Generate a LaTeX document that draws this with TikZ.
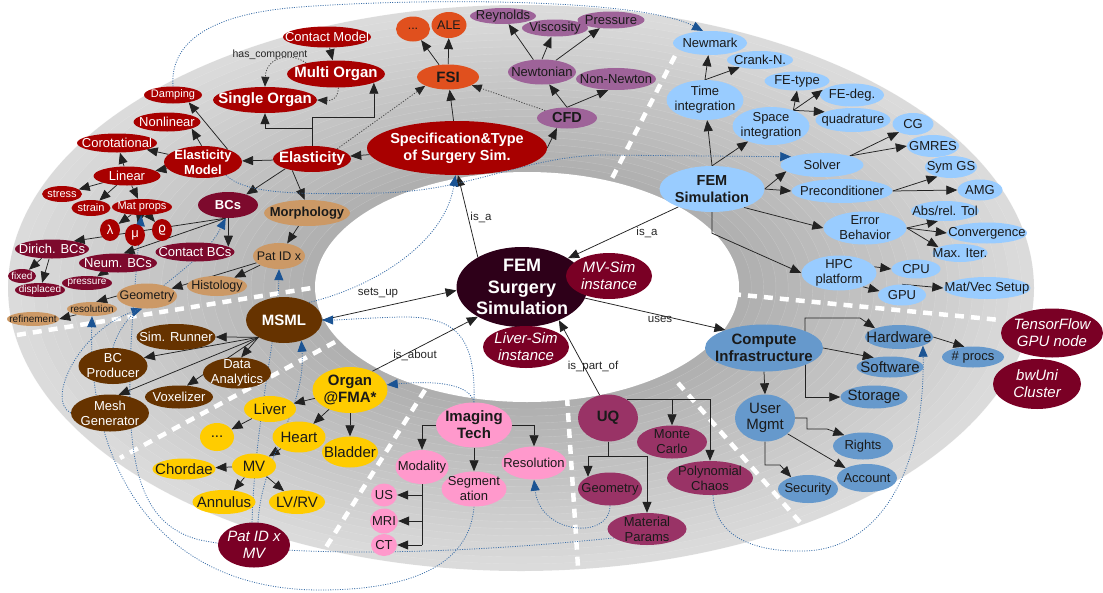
\documentclass[tikz,border=0pt]{standalone}
\usepackage{fontspec}
\setmainfont{Liberation Sans}
\newfontfamily\dejavu{DejaVu Sans}
\usetikzlibrary{shapes.geometric,arrows.meta,calc}
\pgfdeclarelayer{ring}
\pgfdeclarelayer{edges}
\pgfsetlayers{ring,edges,main}
\definecolor{cRed}{HTML}{A80000}
\definecolor{cBC}{HTML}{7D0A2D}
\definecolor{cInst}{HTML}{7A0025}
\definecolor{cCtr}{HTML}{2E0019}
\definecolor{cOr}{HTML}{E0501E}
\definecolor{cPu}{HTML}{9E6399}
\definecolor{cLB}{HTML}{99CCFF}
\definecolor{cMB}{HTML}{6699CC}
\definecolor{cPl}{HTML}{993366}
\definecolor{cPk}{HTML}{FF99CC}
\definecolor{cYl}{HTML}{FFCC00}
\definecolor{cBr}{HTML}{663300}
\definecolor{cTn}{HTML}{CC9966}
\definecolor{cTxt}{HTML}{1A1A1A}
\definecolor{cLine}{HTML}{222222}
\definecolor{cBl}{HTML}{3A6EA8}
\definecolor{cBlH}{HTML}{1B5494}
\newcommand\fsz[2]{\fontsize{#1}{#2}\selectfont}
\newcommand\Nd[8]{\node[#2, minimum width=#5pt, minimum height=#6pt] (#1) at (#3,#4) {};\node[#2t, #7] (#1-t) at (#1.center) {#8};}
\tikzset{
 nd/.style={ellipse, inner sep=0pt, draw=none},
 txt/.style={inner sep=0pt, align=center, text=cTxt},
 wtxt/.style={inner sep=0pt, align=center, text=white},
 rd/.style={nd, fill=cRed}, rdt/.style={wtxt},
 bc/.style={nd, fill=cBC}, bct/.style={wtxt},
 inst/.style={nd, fill=cInst}, instt/.style={wtxt},
 ctr/.style={nd, fill=cCtr}, ctrt/.style={wtxt},
 og/.style={nd, fill=cOr}, ogt/.style={txt},
 pur/.style={nd, fill=cPu}, purt/.style={txt},
 lb/.style={nd, fill=cLB}, lbt/.style={txt},
 mb/.style={nd, fill=cMB}, mbt/.style={txt},
 pl/.style={nd, fill=cPl}, plt/.style={txt},
 pk/.style={nd, fill=cPk}, pkt/.style={txt},
 yl/.style={nd, fill=cYl}, ylt/.style={txt},
 br/.style={nd, fill=cBr}, brt/.style={wtxt},
 tn/.style={nd, fill=cTn}, tnt/.style={txt},
 f10/.style={font=\fsz{10}{11}},
 f11/.style={font=\fsz{11}{12.5}},
 f12/.style={font=\fsz{12.5}{14}},
 f13/.style={font=\fsz{13}{15}},
 f15/.style={font=\fsz{15}{16.5}},
 b13/.style={font=\fsz{13}{15}\bfseries},
 b14/.style={font=\fsz{14.5}{17}\bfseries},
 b15/.style={font=\fsz{15}{17}\bfseries},
 b18/.style={font=\fsz{18}{21.5}\bfseries},
 i15/.style={font=\fsz{15}{17}\itshape},
 arr/.style={draw=cLine, line width=0.75pt, -{Triangle[length=11pt,width=9pt]}},
 ln/.style={draw=cLine, line width=0.75pt},
 dkarr/.style={draw=black!70, line width=0.8pt, dash pattern=on 1.2pt off 1.5pt, -{Triangle[length=10pt,width=8pt,color=black!85]}},
 bl/.style={draw=cBl, line width=0.8pt, dash pattern=on 1pt off 1.4pt, -{Triangle[length=11pt,width=9pt,color=cBlH]}},
 lab/.style={inner sep=0pt, font=\fsz{11.5}{13}, text=black!85},
 sepline/.style={white, line width=4.5pt, dash pattern=on 9pt off 7pt},
}
\begin{document}
\begin{tikzpicture}[x=1pt,y=-1pt]
\useasboundingbox (0,0) rectangle (1103,592);
\begin{pgfonlayer}{ring}
\foreach \i in {0,...,23}{
  \pgfmathsetmacro\t{\i/24}
  \pgfmathsetmacro\cx{521+6*\t}
  \pgfmathsetmacro\cy{288-1*\t}
  \pgfmathsetmacro\rx{513-301*\t}
  \pgfmathsetmacro\ry{283-168*\t}
  \pgfmathsetmacro\g{14+18*\t}
  \fill[black!\g] (\cx,\cy) ellipse [x radius=\rx pt, y radius=\ry pt];
  \draw[white, opacity=.2, line width=.4pt] (\cx,\cy) ellipse [x radius=\rx pt, y radius=\ry pt];
}
\fill[white] (527,287) ellipse [x radius=212pt, y radius=115pt];
\draw[sepline] (17,335) -- (318,287);
\draw[sepline] (335,342) -- (120,458);
\draw[sepline] (425,390) -- (323,552);
\draw[sepline] (567,397) -- (578,567);
\draw[sepline] (678,383) -- (805,528);
\draw[sepline] (732,294) -- (1000,320);
\draw[sepline] (605,192) -- (678,50);
\end{pgfonlayer}

% ---------- nodes ----------
\Nd{cm}{rd}{327}{37}{88}{21}{f13}{Contact Model}
\Nd{mo}{rd}{336}{74}{98}{27}{b15}{Multi Organ}
\Nd{so}{rd}{265}{100}{104}{26}{b15}{Single Organ}
\Nd{dmp}{rd}{173}{95}{58}{17}{f11}{Damping}
\Nd{nl}{rd}{167}{122}{67}{19}{f13}{Nonlinear}
\Nd{cor}{rd}{117}{143}{80}{19}{f13}{Corotational}
\Nd{em}{rd}{203}{162}{78}{32}{b13}{Elasticity\\Model}
\Nd{el}{rd}{312}{159}{78}{26}{b15}{Elasticity}
\Nd{lin}{rd}{127}{176}{67}{19}{f13}{Linear}
\Nd{str}{rd}{62}{194}{40}{16}{f11}{stress}
\Nd{stn}{rd}{91}{208}{39}{16}{f11}{strain}
\Nd{mp}{rd}{142}{207}{60}{16}{f11}{Mat props}
\Nd{lam}{rd}{110}{230}{20}{22}{f13}{λ}
\Nd{mu}{rd}{135}{235}{20}{22}{f13}{μ}
\Nd{rho}{rd}{162}{230}{20}{22}{f13}{{\dejavu ϱ}}
\Nd{spec}{rd}{457}{148}{180}{54}{b14}{Specification\&Type\\of Surgery Sim.}

\Nd{bcs}{bc}{228}{205}{60}{26}{b13}{BCs}
\Nd{dbc}{bc}{52}{249}{74}{19}{f13}{Dirich. BCs}
\Nd{nbc}{bc}{118}{263}{78}{19}{f13}{Neum. BCs}
\Nd{cbc}{bc}{195}{252}{79}{19}{f13}{Contact BCs}
\Nd{fix}{bc}{22}{276}{28}{14}{f10}{fixed}
\Nd{dis}{bc}{40}{290}{50}{14}{f10}{displaced}
\Nd{prs}{bc}{87}{283}{50}{14}{f10}{pressure}

\Nd{mor}{tn}{307}{213}{86}{26}{b13}{Morphology}
\Nd{pid}{tn}{279}{256}{52}{26}{f12}{Pat ID x}
\Nd{his}{tn}{217}{286}{60}{20}{f12}{Histology}
\Nd{geo}{tn}{147}{296}{60}{25}{f12}{Geometry}
\Nd{res}{tn}{92}{309}{50}{14}{f10}{resolution}
\Nd{ref}{tn}{33}{319}{52}{14}{f10}{refinement}

\Nd{msml}{br}{284}{320}{76}{46}{b15}{MSML}
\Nd{sr}{br}{176}{337}{79}{26}{f13}{Sim. Runner}
\Nd{bcp}{br}{113}{366}{69}{36}{f13}{BC\\Producer}
\Nd{da}{br}{237}{373}{68}{31}{f13}{Data\\Analytics}
\Nd{vox}{br}{179}{397}{68}{23}{f13}{Voxelizer}
\Nd{mg}{br}{110}{413}{78}{37}{f13}{Mesh\\Generator}

\Nd{org}{yl}{350}{390}{75}{46}{b15}{Organ\\@FMA*}
\Nd{liv}{yl}{270}{409}{52}{26}{f15}{Liver}
\Nd{dots}{yl}{217}{437}{34}{28}{f15}{...}
\Nd{hrt}{yl}{299}{437}{53}{31}{f15}{Heart}
\Nd{bld}{yl}{350}{452}{56}{31}{f15}{Bladder}
\Nd{cho}{yl}{184}{469}{63}{21}{f15}{Chordae}
\Nd{mv}{yl}{254}{466}{44}{25}{f15}{MV}
\Nd{ann}{yl}{224}{502}{63}{24}{f15}{Annulus}
\Nd{lvrv}{yl}{297}{502}{56}{24}{f15}{LV/RV}

\Nd{img}{pk}{474}{425}{76}{45}{b15}{Imaging\\Tech}
\Nd{mod}{pk}{422}{467}{53}{34}{f13}{Modality}
\Nd{seg}{pk}{474}{489}{65}{35}{f13}{Segment\\ation}
\Nd{ires}{pk}{534}{463}{65}{33}{f13}{Resolution}
\Nd{us}{pk}{384}{495}{26}{23}{f13}{US}
\Nd{mri}{pk}{384}{521}{28}{25}{f13}{MRI}
\Nd{ct}{pk}{384}{545}{26}{22}{f13}{CT}

\Nd{uq}{pl}{608}{418}{60}{47}{b15}{UQ}
\Nd{mc}{pl}{672}{442}{70}{33}{f13}{Monte\\Carlo}
\Nd{pc}{pl}{710}{478}{86}{34}{f13}{Polynomial\\Chaos}
\Nd{ug}{pl}{610}{489}{64}{33}{f13}{Geometry}
\Nd{mat}{pl}{647}{529}{79}{32}{f13}{Material\\Params}

\Nd{ci}{mb}{764}{348}{118}{47}{b15}{Compute\\Infrastructure}
\Nd{hw}{mb}{899}{337}{68}{24}{f15}{Hardware}
\Nd{sw}{mb}{890}{367}{67}{21}{f15}{Software}
\Nd{np}{mb}{973}{357}{62}{21}{f13}{\# procs}
\Nd{sto}{mb}{874}{397}{67}{23}{f15}{Storage}
\Nd{um}{mb}{765}{418}{60}{47}{f15}{User\\Mgmt}
\Nd{rig}{mb}{863}{446}{60}{27}{f13}{Rights}
\Nd{acc}{mb}{867}{478}{60}{28}{f13}{Account}
\Nd{sec}{mb}{808}{489}{60}{28}{f13}{Security}

\Nd{fem}{ctr}{522}{287}{131}{80}{b18}{FEM\\Surgery\\Simulation}
\Nd{mvs}{inst}{609}{276}{86}{46}{i15}{MV-Sim\\instance}
\Nd{lvs}{inst}{526}{347}{86}{42}{i15}{Liver-Sim\\instance}
\Nd{tf}{inst}{1052}{333}{102}{49}{i15}{TensorFlow\\GPU node}
\Nd{bw}{inst}{1037}{384}{88}{50}{i15}{bwUni\\Cluster}
\Nd{pmv}{inst}{254}{545}{72}{45}{i15}{Pat ID x\\MV}

\Nd{fs}{lb}{712}{189}{105}{46}{b14}{FEM\\Simulation}
\Nd{ti}{lb}{705}{100}{77}{40}{f13}{Time\\integration}
\Nd{si}{lb}{771}{126}{77}{38}{f13}{Space\\integration}
\Nd{nm}{lb}{710}{43}{74}{24}{f13}{Newmark}
\Nd{cnk}{lb}{760}{60}{66}{18}{f13}{Crank-N.}
\Nd{fet}{lb}{797}{81}{65}{19}{f13}{FE-type}
\Nd{fed}{lb}{852}{95}{64}{23}{f13}{FE-deg.}
\Nd{quad}{lb}{853}{120}{75}{24}{f13}{quadrature}
\Nd{cg}{lb}{913}{124}{41}{22}{f13}{CG}
\Nd{gm}{lb}{933}{146}{52}{22}{f13}{GMRES}
\Nd{sgs}{lb}{951}{167}{52}{22}{f13}{Sym GS}
\Nd{amg}{lb}{980}{190}{45}{21}{f13}{AMG}
\Nd{sol}{lb}{822}{165}{83}{24}{f13}{Solver}
\Nd{pre}{lb}{842}{191}{101}{24}{f13}{Preconditioner}
\Nd{eb}{lb}{865}{228}{83}{33}{f13}{Error\\Behavior}
\Nd{art}{lb}{945}{211}{68}{20}{f13}{Abs/rel. Tol}
\Nd{conv}{lb}{987}{233}{80}{21}{f13}{Convergence}
\Nd{mi}{lb}{960}{253}{55}{18}{f13}{Max. Iter.}
\Nd{hpc}{lb}{839}{273}{75}{35}{f13}{HPC\\platform}
\Nd{cpu}{lb}{916}{269}{49}{19}{f13}{CPU}
\Nd{gpu}{lb}{902}{295}{48}{21}{f13}{GPU}
\Nd{mvsu}{lb}{987}{288}{87}{22}{f13}{Mat/Vec Setup}

\Nd{fsi}{og}{448}{77}{62}{25}{b15}{FSI}
\Nd{odt}{og}{413}{29}{34}{25}{f12}{...}
\Nd{ale}{og}{449}{25}{35}{26}{f12}{ALE}

\Nd{rey}{pur}{503}{16}{66}{16}{f13}{Reynolds}
\Nd{vis}{pur}{555}{28}{66}{17}{f13}{Viscosity}
\Nd{pres}{pur}{611}{20}{67}{17}{f13}{Pressure}
\Nd{newt}{pur}{542}{72}{68}{25}{f13}{Newtonian}
\Nd{nn}{pur}{616}{79}{80}{22}{f13}{Non-Newton}
\Nd{cfd}{pur}{567}{118}{60}{21}{b14}{CFD}

% ---------- labels ----------
\node[lab, font=\fsz{10.5}{12}] (lhc) at (270,55) {has\_component};
\node[lab] (la1) at (481,217) {is\_a};
\node[lab] (la2) at (647,232) {is\_a};
\node[lab] (la3) at (378,293) {sets\_up};
\node[lab] (la4) at (415,355) {is\_about};
\node[lab] (la5) at (660,319) {uses};
\node[lab] (la6) at (593,367) {is\_part\_of};

% ---------- edges ----------
\begin{pgfonlayer}{edges}
\draw[arr] (cm) -- (mo);
\draw[dkarr] (mo.160) .. controls (292,52) and (266,56) .. (so.north);
\draw[dkarr] (mo.-80) .. controls (338,98) and (332,101) .. (so.east);
\draw[arr] (el.north) -- (312,128) -| (so.south);
\draw[arr] (el.north) -- (312,117) -| (mo.-13);
\draw[arr] (em.27) -- (dmp.-25);
\draw[arr] (em.95) -- (nl.-15);
\draw[arr] (em) -- (cor);
\draw[arr] (em) -- (lin);
\draw[arr] (el) -- (em);
\draw[arr] (spec) -- (el);
\draw[arr] (el.200) -- (bcs.30);
\draw[arr] (el.210) -- (mor.100);
\draw[arr] (lin) -- (cor);
\draw[arr] (lin) -- (str);
\draw[arr] (lin) -- (stn);
\draw[arr] (lin) -- (mp);
\draw[arr] (mp) -- (lam);
\draw[arr] (mp) -- (mu);
\draw[arr] (mp) -- (rho);
\draw[arr] (bcs.-100) -- (dbc.20);
\draw[arr] (bcs.-100) -- (nbc.60);
\draw[arr] (bcs.-88) -- (cbc.9);
\draw[arr] (dbc) -- (fix);
\draw[arr] (dbc) -- (dis);
\draw[arr] (nbc) -- (prs);
\draw[arr] (mor) -- (pid);
\draw[arr] (pid) -- (his);
\draw[arr] (pid) -- (geo);
\draw[arr] (geo.west) -- (res.60);
\draw[arr] (res.200) -- (ref.east);
\draw[arr] (msml.214) -- (sr.east);
\draw[arr] (msml.214) -- (bcp.15);
\draw[arr] (msml.214) -- (da.75);
\draw[arr] (msml.214) -- (vox.55);
\draw[arr] (msml.214) -- (mg.65);
% centre
\draw[arr] (fem.146) -- (spec.-88);
\draw[arr] (fs.208) -- (fem.32);
\draw[arr] (msml.east) -- (fem.183);
\draw[arr] (org.40) -- (fem.214);
\draw[arr] (fem.-10) -- (ci.155);
\draw[arr] (uq.110) -- (fem.-42);
% top
\draw[arr] (spec) -- (fsi);
\draw[arr] (spec.east) -- (cfd.225);
\draw[arr] (fsi) -- (odt);
\draw[arr] (fsi) -- (ale);
\draw[dkarr] (cfd) -- (fsi);
\draw[dkarr] (el.22) -- (fsi.201);
\draw[arr] (cfd.north) -- (newt.-60);
\draw[arr] (cfd.north) -- (nn.235);
\draw[arr] (newt.125) -- (rey);
\draw[arr] (newt.north) -- (vis);
\draw[arr] (newt.40) -- (pres);
% FEM
\draw[arr] (fs.north) -- (ti);
\draw[arr] (fs.north) -- (si);
\draw[arr] (ti.north) -- (nm);
\draw[arr] (ti.north) -- (cnk);
\draw[arr] (si.35) -- (fet.south);
\draw[arr] (si.35) -- (fed.170);
\draw[arr] (si.35) -- (quad.164);
\draw[arr] (fs.east) -- (sol.190);
\draw[arr] (fs.east) -- (pre.west);
\draw[arr] (sol.18) -- (cg.210);
\draw[arr] (sol.18) -- (gm.west);
\draw[arr] (pre.east) -- (sgs.215);
\draw[arr] (pre.east) -- (amg.west);
\draw[arr] (fs.-30) -- (eb.west);
\draw[arr] (fs.south) -- ++(0,21) -- (hpc.west);
\draw[arr] (eb.east) -- (art.235);
\draw[arr] (eb.east) -- (conv.west);
\draw[arr] (eb.east) -- (mi.165);
\draw[arr] (hpc.10) -- (cpu.west);
\draw[arr] (hpc.-30) -- (gpu.170);
\draw[arr] (gpu.north) -- (mvsu.west);
% compute
\coordinate (ctk) at (805,348);
\draw[arr] (ctk) -- (805,318) -- (860,318) -- (hw.160);
\draw[arr] (ctk) |- (sto.west);
\draw[arr] (ci.east) -- (sw.150);
\draw[arr] (ci.south) -- (um.north);
\draw[arr] (hw.east) -- (np.130);
\draw[arr] (um.east) -- (807,418) |- (827,429) -- (rig.150);
\draw[arr] (um.-35) -- (acc.155);
\draw[arr] (um.south) -- (765,465) -- (780,465) -- (sec.145);
% UQ
\draw[arr] (uq.43) -| (mc.north);
\draw[arr] (uq.43) -| (pc.north);
\draw[arr] (uq.south) -- ++(0,15) -| (ug.151);
\draw[arr] (uq.south) -- ++(0,15) -| (mat.north);
% imaging
\draw[arr] (img.west) -| (mod.north);
\draw[arr] (img.south) -- (seg.north);
\draw[arr] (img.east) -| (ires.north);
\draw[ln] (mod.south) -- (mod.south |- ct.east);
\draw[arr] (mod.south |- us.east) -- (us.east);
\draw[arr] (mod.south |- mri.east) -- (mri.east);
\draw[arr] (mod.south |- ct.east) -- (ct.east);
% organ
\draw[arr] (org) -- (liv);
\draw[arr] (org) -- (hrt);
\draw[arr] (org.south) -- (bld.north);
\draw[arr] (liv) -- (dots);
\draw[arr] (hrt) -- (mv);
\draw[arr] (mv) -- (cho);
\draw[arr] (mv) -- (ann);
\draw[arr] (mv) -- (lvrv);
% blue dotted links
\draw[bl] (dmp.north) .. controls (170,45) and (205,14) .. (300,7) .. controls (420,-2) and (640,-2) .. (nm.120);
\draw[bl] (em.-30) .. controls (245,193) and (290,195) .. (380,193) .. controls (470,191) and (520,158) .. (600,155) -- (sol.165);
\draw[bl] (msml.35) .. controls (380,285) and (445,240) .. (spec.-93);
\draw[bl] (img.north) .. controls (476,335) and (455,316) .. (400,317) .. controls (365,318) and (340,320) .. (msml.east);
\draw[bl] (img.north) .. controls (470,385) and (440,380) .. (org.8);
\draw[bl] (pmv.95) .. controls (255,420) and (278,330) .. (pid.south);
\draw[bl] (pmv.80) .. controls (262,455) and (306,410) .. (msml.-50);
\draw[bl] (ug.south) .. controls (610,540) and (540,535) .. (ires.south);
\draw[bl] (seg.south) .. controls (470,560) and (420,590) .. (320,590) .. controls (160,590) and (88,470) .. (res.south);
\draw[bl] (mat.195) .. controls (480,552) and (300,560) .. (200,540) .. controls (120,520) and (122,420) .. (mp.-95);
\draw[bl] (pc.-80) .. controls (715,540) and (760,552) .. (803,551) .. controls (880,550) and (925,470) .. (hw.-20);
\draw[bl] (mg.west) .. controls (45,400) and (80,330) .. (geo.-110);
\draw[bl] (bcp.north) .. controls (125,300) and (200,270) .. (bcs.-100);
\end{pgfonlayer}
\end{tikzpicture}
\end{document}
